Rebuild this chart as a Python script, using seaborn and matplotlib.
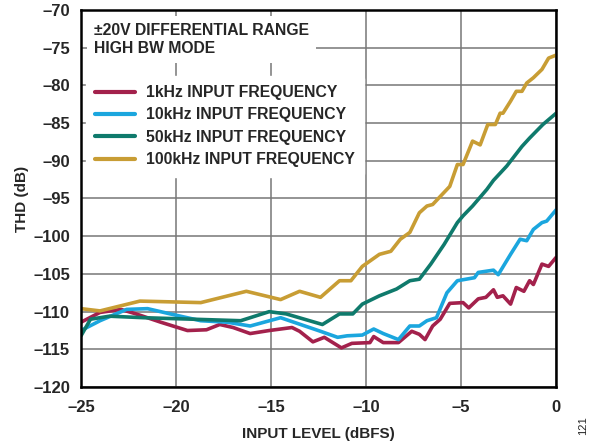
import pandas as pd
import matplotlib
matplotlib.use('Agg')
import matplotlib.pyplot as plt
import seaborn as sns

# %% Datos
x_1k = [-25, -24, -22.9, -22.1, -20.8, -19.4, -18.4, -17.7, -17.0, -16.1, -15.1, -13.9, -13.5,
        -12.8, -12.2, -11.3, -10.75, -9.8, -9.6, -9.1, -8.3, -7.6, -7.2, -6.9, -6.5, -6.1,
        -5.6, -4.9, -4.6, -4.1, -3.7, -3.3, -3.1, -2.8, -2.4, -2.1, -1.7, -1.4, -1.2, -0.75,
        -0.4, 0]
y_1k = [-111.4, -110.1, -109.7, -110.3, -111.4, -112.5, -112.4, -111.7, -112.1, -112.9, -112.5,
        -112.1, -112.6, -114.0, -113.4, -114.8, -114.2, -114.1, -113.3, -114.1, -114.1, -112.6,
        -113.0, -113.7, -111.9, -111.0, -108.9, -108.8, -109.5, -108.3, -108.1, -107.1, -108.1,
        -107.9, -109.0, -106.8, -107.3, -105.9, -106.4, -103.7, -104.0, -102.8]

x_10k = [-25, -24, -22.6, -21.5, -20.3, -18.7, -17.3, -16.1, -14.5, -12.4, -11.5, -11.0, -10.2,
         -9.6, -9.1, -8.3, -7.7, -7.2, -6.8, -6.3, -5.75, -5.2, -4.3, -4.1, -3.3, -3.05, -2.4,
         -1.9, -1.55, -1.2, -0.75, -0.5, 0]
y_10k = [-112.5, -111.2, -109.7, -109.6, -110.3, -111.2, -111.4, -111.9, -110.8, -112.6, -113.4,
         -113.2, -113.1, -112.3, -112.9, -113.7, -111.9, -111.9, -111.2, -110.8, -107.5, -105.9,
         -105.5, -104.8, -104.5, -105.1, -102.4, -100.4, -100.6, -99.1, -98.2, -98.0, -96.5]

x_50k = [-25, -24.5, -23.5, -21.7, -19.1, -16.6, -15.1, -14.2, -12.3, -11.4, -10.7, -10.2, -9.3,
         -8.4, -7.7, -7.2, -6.6, -5.9, -5.2, -4.9, -4.4, -3.65, -3.3, -2.6, -1.8, -1.4, -0.7, 0]
y_50k = [-113.2, -111.0, -110.6, -110.8, -111.0, -111.2, -110.0, -110.3, -111.7, -110.3, -110.3,
         -109.0, -107.9, -107.0, -105.9, -105.7, -103.7, -101.1, -98.2, -97.3, -96.0, -93.8,
         -92.6, -90.7, -88.1, -87.0, -85.2, -83.7]

x_100k = [-25, -24, -21.9, -18.7, -16.3, -14.5, -13.5, -12.4, -11.4, -10.8, -10.2, -9.3, -8.7,
          -8.2, -7.7, -7.2, -6.8, -6.5, -5.9, -5.6, -5.2, -4.9, -4.4, -4.0, -3.6, -3.2, -2.95,
          -2.8, -2.4, -2.1, -1.8, -1.55, -1.2, -0.75, -0.4, 0]
y_100k = [-109.6, -109.9, -108.6, -108.8, -107.3, -108.4, -107.3, -108.1, -105.9, -105.9, -104.0,
          -102.4, -102.0, -100.4, -99.5, -96.9, -96.0, -95.8, -94.2, -93.4, -90.5, -90.5, -87.4,
          -87.9, -85.2, -85.2, -83.7, -83.7, -82.1, -80.8, -80.8, -79.7, -79.0, -77.9, -76.4,
          -76.0]

series = ['1kHz INPUT FREQUENCY', '10kHz INPUT FREQUENCY',
          '50kHz INPUT FREQUENCY', '100kHz INPUT FREQUENCY']
colores = ['#a3214c', '#1ba6de', '#0f7a6c', '#c89d34']

x_ticks = [-25, -20, -15, -10, -5, 0]
y_ticks = [-120, -115, -110, -105, -100, -95, -90, -85, -80, -75, -70]

# armamos el dataframe largo
partes = []
for nombre, xs, ys in zip(series, [x_1k, x_10k, x_50k, x_100k], [y_1k, y_10k, y_50k, y_100k]):
    partes.append(pd.DataFrame({'x': xs, 'y': ys, 'serie': nombre}))
df = pd.concat(partes, ignore_index=True)

# %% Grafico
sns.set_style('white')
plt.rcParams['font.family'] = ['Liberation Sans', 'DejaVu Sans']
plt.rcParams['font.weight'] = 'bold'

fig, ax = plt.subplots(figsize=(6, 4.46), dpi=100)
fig.subplots_adjust(left=0.135, right=0.927, top=0.978, bottom=0.132)

sns.lineplot(data=df, x='x', y='y', hue='serie', hue_order=series,
             palette=colores, linewidth=2.6, estimator=None, ax=ax)

ax.set_xlim(-25, 0)
ax.set_ylim(-120, -70)
ax.set_xticks(x_ticks)
ax.set_yticks(y_ticks)
ax.set_xticklabels([str(t).replace('-', '\u2013') for t in x_ticks], fontsize=12, fontweight='bold')
ax.set_yticklabels([str(t).replace('-', '\u2013') for t in y_ticks], fontsize=12, fontweight='bold')
ax.tick_params(axis='x', length=0, pad=9)
ax.tick_params(axis='y', length=0, pad=8)
ax.grid(True, color='#777777', linewidth=1.1)
ax.set_axisbelow(True)
for s in ax.spines.values():
    s.set_color('black')
    s.set_linewidth(1.8)

ax.set_xlabel('INPUT LEVEL (dBFS)', fontsize=11, fontweight='bold', labelpad=9)
ax.set_ylabel('THD (dB)', fontsize=11, fontweight='bold', labelpad=3)

ax.text(0.027, 0.965, '\u00b120V DIFFERENTIAL RANGE\nHIGH BW MODE', transform=ax.transAxes,
        fontsize=11.3, fontweight='bold', va='top', ha='left', linespacing=1.25,
        bbox=dict(facecolor='white', edgecolor='none', pad=5))

leg = ax.legend(loc='upper left', bbox_to_anchor=(0.0, 0.838), frameon=True,
                facecolor='white', edgecolor='white', framealpha=1, fontsize=11.3,
                handlelength=2.55, handletextpad=0.7, labelspacing=0.47, borderpad=0.6,
                borderaxespad=0.3)
for t in leg.get_texts():
    t.set_fontweight('bold')
for l in leg.get_lines():
    l.set_linewidth(3)

fig.text(0.972, 0.045, '121', rotation=90, fontsize=8, fontweight='normal', ha='center', va='center')

plt.savefig('out.png', dpi=100)
